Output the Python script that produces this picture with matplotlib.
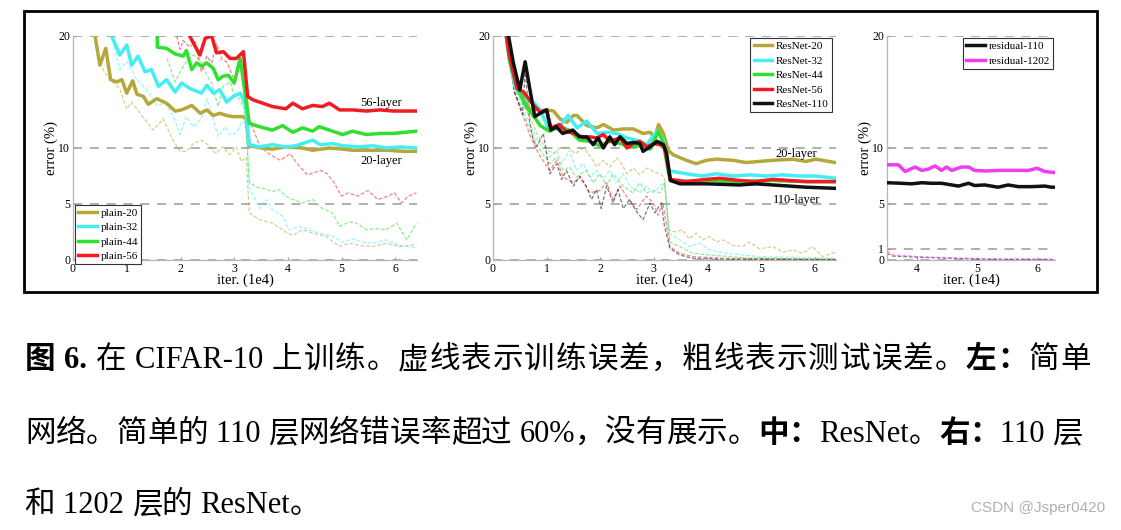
import matplotlib
matplotlib.use('Agg')
import matplotlib.pyplot as plt
from matplotlib.patches import Rectangle

plt.rcParams['font.family'] = ['Liberation Serif', 'Noto Sans CJK SC']

# ---- left panel: plain nets, (iter 1e4, error %) ----
plain20_test = [(0.30, 22.0), (0.41, 20.0), (0.50, 17.4), (0.61, 18.9), (0.70, 16.1), (0.81, 15.9), (0.91, 16.1),
                (1.00, 14.9), (1.11, 16.0), (1.19, 14.8), (1.31, 14.6), (1.40, 13.9), (1.56, 14.4), (1.74, 14.0),
                (1.90, 13.3), (2.02, 13.4), (2.21, 13.8), (2.37, 13.1), (2.49, 13.4), (2.61, 12.9), (2.73, 13.1),
                (2.86, 12.9), (2.98, 12.8), (3.16, 12.8), (3.22, 12.6), (3.28, 10.2), (3.50, 10.0), (3.71, 9.9),
                (3.96, 10.1), (4.27, 10.0), (4.46, 9.8), (4.77, 10.0), (5.02, 9.9), (5.20, 9.8), (5.52, 9.8),
                (5.83, 9.8), (6.15, 9.7), (6.39, 9.7)]
plain20_train = [(0.30, 22.0), (0.41, 20.0), (0.50, 17.4), (0.69, 16.1), (0.87, 15.3), (1.00, 13.5), (1.09, 14.1),
                 (1.28, 12.9), (1.49, 11.6), (1.68, 12.6), (1.86, 10.7), (1.99, 9.7), (2.11, 9.7), (2.24, 10.4),
                 (2.39, 10.7), (2.51, 10.3), (2.66, 9.5), (2.79, 10.1), (2.91, 9.4), (3.04, 10.1), (3.13, 8.8),
                 (3.22, 9.2), (3.28, 4.2), (3.47, 3.6), (3.71, 3.3), (3.96, 2.5), (4.09, 2.2), (4.27, 2.7),
                 (4.46, 2.4), (4.71, 2.1), (4.96, 1.2), (5.14, 1.5), (5.33, 1.3), (5.58, 1.2), (5.83, 1.5),
                 (6.08, 1.2), (6.39, 1.4)]
plain32_test = [(0.62, 22.0), (0.72, 20.0), (0.87, 18.3), (1.00, 19.2), (1.09, 17.4), (1.21, 18.2), (1.34, 16.8),
                (1.46, 17.0), (1.59, 15.5), (1.74, 16.1), (1.90, 15.0), (2.02, 15.8), (2.18, 15.3), (2.39, 14.9),
                (2.49, 15.6), (2.61, 14.9), (2.73, 15.2), (2.86, 14.1), (2.98, 14.6), (3.11, 14.9), (3.20, 14.0),
                (3.28, 10.3), (3.47, 10.1), (3.71, 10.3), (3.96, 10.1), (4.15, 10.2), (4.27, 10.4), (4.46, 10.7),
                (4.60, 10.3), (4.83, 10.4), (5.02, 10.2), (5.30, 10.1), (5.58, 10.2), (5.83, 10.0), (6.08, 10.1),
                (6.39, 10.0)]
plain32_train = [(0.62, 22.0), (0.72, 20.0), (0.87, 17.0), (1.00, 17.7), (1.19, 16.1), (1.37, 15.2), (1.56, 13.8),
                 (1.71, 14.0), (1.86, 12.9), (1.99, 11.2), (2.11, 12.8), (2.24, 11.9), (2.39, 12.6), (2.49, 14.4),
                 (2.61, 12.5), (2.70, 11.0), (2.83, 11.9), (2.91, 11.2), (3.04, 11.3), (3.13, 12.3), (3.22, 12.2),
                 (3.28, 6.5), (3.47, 4.6), (3.60, 5.4), (3.71, 4.5), (3.90, 3.9), (4.02, 2.7), (4.21, 3.0),
                 (4.40, 2.7), (4.58, 2.4), (4.83, 2.1), (5.02, 1.6), (5.20, 1.9), (5.39, 1.6), (5.58, 1.5),
                 (5.83, 1.8), (6.08, 1.3), (6.39, 1.1)]
plain44_test = [(1.56, 22.0), (1.57, 19.0), (1.74, 18.9), (1.90, 18.4), (2.05, 18.2), (2.11, 18.7), (2.21, 17.0),
                (2.30, 17.6), (2.39, 17.3), (2.49, 17.6), (2.61, 17.1), (2.70, 16.1), (2.79, 16.4), (2.89, 16.5),
                (3.00, 15.8), (3.11, 18.0), (3.20, 14.9), (3.28, 12.2), (3.47, 11.9), (3.71, 11.6), (3.90, 12.0),
                (4.09, 11.4), (4.27, 11.8), (4.46, 11.5), (4.58, 11.9), (4.83, 11.5), (5.02, 11.2), (5.20, 11.5),
                (5.46, 11.2), (5.71, 11.3), (5.96, 11.3), (6.39, 11.5)]
plain44_train = [(1.75, 18.0), (1.90, 15.9), (1.99, 16.8), (2.11, 17.7), (2.24, 18.3), (2.36, 17.9), (2.49, 16.5),
                 (2.58, 15.8), (2.70, 13.7), (2.79, 15.5), (2.92, 15.9), (3.00, 14.7), (3.11, 14.3), (3.20, 13.4),
                 (3.28, 7.0), (3.40, 6.5), (3.53, 6.4), (3.71, 6.1), (3.84, 6.3), (3.96, 5.7), (4.09, 5.4),
                 (4.27, 5.1), (4.46, 5.4), (4.64, 4.6), (4.83, 4.2), (4.96, 3.0), (5.14, 3.4), (5.27, 3.3),
                 (5.46, 2.7), (5.64, 2.8), (5.83, 2.7), (6.02, 3.3), (6.21, 1.8), (6.39, 3.3)]
plain56_test = [(2.10, 22.0), (2.17, 20.0), (2.36, 18.3), (2.46, 19.8), (2.58, 20.0), (2.67, 18.5), (2.80, 18.6),
                (2.92, 18.0), (3.04, 18.0), (3.17, 18.6), (3.25, 14.6), (3.35, 14.3), (3.47, 14.1), (3.71, 13.7),
                (3.96, 13.5), (4.09, 14.0), (4.27, 13.5), (4.46, 13.8), (4.64, 13.7), (4.77, 14.0), (4.96, 13.4),
                (5.20, 13.4), (5.46, 13.3), (5.71, 13.4), (5.96, 13.3), (6.39, 13.3)]
plain56_train = [(1.90, 22.0), (1.93, 20.0), (1.99, 18.8), (2.05, 19.6), (2.17, 19.0), (2.27, 19.5), (2.39, 16.8),
                 (2.49, 18.2), (2.58, 17.6), (2.67, 19.3), (2.77, 17.9), (2.86, 17.7), (3.00, 16.1), (3.11, 17.4),
                 (3.20, 17.3), (3.28, 12.5), (3.36, 11.6), (3.48, 10.1), (3.67, 9.4), (3.86, 8.9), (4.04, 9.5),
                 (4.17, 8.6), (4.36, 7.6), (4.61, 8.0), (4.73, 7.7), (4.86, 6.9), (4.99, 5.7), (5.12, 6.0),
                 (5.30, 5.7), (5.49, 6.2), (5.67, 5.4), (5.86, 5.7), (5.98, 6.0), (6.11, 5.1), (6.24, 5.7),
                 (6.39, 6.0)]

# ---- middle panel: ResNets ----
res20_test = [(0.22, 21.0), (0.30, 18.5), (0.44, 16.1), (0.56, 14.6), (0.69, 13.4), (0.81, 13.5), (0.88, 13.3),
              (1.00, 13.4), (1.13, 13.3), (1.25, 12.6), (1.38, 12.3), (1.50, 12.9), (1.57, 12.9), (1.75, 12.0),
              (1.94, 11.8), (2.06, 12.1), (2.25, 11.6), (2.43, 11.7), (2.62, 11.7), (2.80, 11.3), (2.93, 11.4),
              (3.02, 11.0), (3.09, 12.1), (3.18, 11.3), (3.27, 9.8), (3.36, 9.4), (3.61, 8.9), (3.79, 8.6),
              (3.98, 8.9), (4.17, 9.0), (4.48, 8.9), (4.72, 8.7), (4.97, 8.8), (5.22, 8.9), (5.59, 9.0),
              (5.84, 8.8), (6.02, 9.0), (6.39, 8.7)]
res20_train = [(0.25, 20.0), (0.40, 15.5), (0.55, 14.0), (0.70, 12.6), (0.85, 11.0), (1.00, 9.9), (1.13, 9.5),
               (1.24, 10.0), (1.40, 10.1), (1.53, 9.5), (1.69, 10.0), (1.81, 9.3), (1.94, 8.3), (2.06, 8.9),
               (2.18, 8.3), (2.31, 9.1), (2.40, 8.6), (2.50, 7.7), (2.62, 8.2), (2.74, 7.6), (2.87, 8.2),
               (3.00, 7.9), (3.11, 7.7), (3.20, 7.4), (3.28, 2.7), (3.41, 2.5), (3.53, 2.7), (3.66, 1.9),
               (3.79, 2.4), (3.91, 1.8), (4.04, 2.1), (4.17, 1.6), (4.29, 1.8), (4.48, 1.3), (4.66, 1.2),
               (4.79, 1.6), (4.97, 1.0), (5.22, 1.2), (5.41, 0.7), (5.59, 0.9), (5.78, 0.6), (5.96, 1.2),
               (6.15, 0.3), (6.39, 0.7)]
res32_test = [(0.22, 21.0), (0.30, 18.0), (0.41, 15.5), (0.56, 14.3), (0.75, 14.1), (0.88, 13.4), (1.05, 11.6),
              (1.24, 11.9), (1.40, 12.9), (1.57, 11.8), (1.75, 12.4), (1.94, 11.3), (2.13, 11.4), (2.31, 11.3),
              (2.50, 10.9), (2.68, 10.7), (2.87, 10.3), (3.06, 11.5), (3.18, 10.7), (3.28, 8.0), (3.36, 7.9),
              (3.61, 7.7), (3.90, 7.5), (4.17, 7.7), (4.48, 7.5), (4.79, 7.6), (5.10, 7.5), (5.40, 7.6),
              (5.70, 7.5), (6.02, 7.5), (6.39, 7.3)]
res32_train = [(0.25, 20.0), (0.40, 15.0), (0.55, 13.5), (0.70, 12.0), (0.85, 10.5), (1.06, 9.2), (1.19, 9.8),
               (1.28, 8.6), (1.43, 9.8), (1.55, 8.0), (1.68, 8.6), (1.81, 7.4), (1.93, 8.0), (2.06, 7.3),
               (2.18, 8.0), (2.30, 6.9), (2.43, 7.7), (2.55, 6.6), (2.74, 6.0), (2.86, 6.6), (2.99, 6.0),
               (3.12, 6.6), (3.20, 6.9), (3.28, 2.4), (3.48, 1.8), (3.67, 1.2), (3.86, 1.5), (4.04, 0.9),
               (4.35, 0.6), (4.66, 0.45), (4.97, 0.3), (5.59, 0.25), (6.39, 0.15)]
res44_test = [(0.22, 21.0), (0.32, 17.6), (0.44, 15.5), (0.62, 13.7), (0.81, 12.5), (0.88, 12.0), (1.05, 11.5),
              (1.24, 11.9), (1.42, 11.6), (1.61, 10.7), (1.80, 10.6), (1.99, 10.2), (2.18, 10.6), (2.37, 10.4),
              (2.56, 10.1), (2.74, 10.2), (2.93, 9.9), (3.09, 11.5), (3.18, 10.4), (3.27, 7.9), (3.31, 7.1),
              (3.49, 7.0), (3.98, 7.1), (4.60, 7.0), (5.22, 7.1), (5.84, 7.0), (6.39, 7.0)]
res44_train = [(0.25, 20.0), (0.40, 15.2), (0.55, 13.3), (0.70, 11.5), (0.85, 10.0), (1.06, 8.6), (1.19, 9.2),
               (1.31, 8.0), (1.43, 8.3), (1.55, 7.4), (1.74, 8.0), (1.87, 6.9), (1.99, 7.7), (2.12, 6.6),
               (2.24, 7.7), (2.43, 6.6), (2.61, 6.0), (2.74, 6.9), (2.86, 6.0), (2.99, 6.2), (3.12, 6.0),
               (3.20, 6.9), (3.30, 1.6), (3.48, 1.2), (3.73, 0.6), (4.04, 0.45), (4.66, 0.2), (5.59, 0.12),
               (6.39, 0.06)]
res56_test = [(0.22, 21.0), (0.30, 18.3), (0.45, 15.3), (0.57, 15.0), (0.76, 13.8), (0.88, 13.2), (1.00, 13.4),
              (1.08, 11.8), (1.24, 12.1), (1.36, 11.5), (1.57, 11.2), (1.69, 10.9), (1.80, 11.0), (1.94, 10.9),
              (2.06, 11.2), (2.18, 10.6), (2.37, 10.9), (2.50, 10.0), (2.62, 10.4), (2.74, 10.6), (2.87, 10.1),
              (3.00, 10.4), (3.11, 10.3), (3.20, 10.1), (3.31, 7.2), (3.61, 7.0), (3.98, 7.2), (4.23, 7.3),
              (4.60, 7.1), (4.90, 7.0), (5.22, 7.2), (5.53, 7.1), (5.84, 7.0), (6.39, 7.0)]
res56_train = [(0.25, 20.0), (0.40, 15.0), (0.55, 13.0), (0.70, 11.0), (0.85, 9.5), (1.06, 8.0), (1.19, 8.9),
               (1.31, 7.4), (1.50, 6.9), (1.62, 7.4), (1.81, 6.0), (1.99, 6.2), (2.12, 6.9), (2.24, 5.4),
               (2.37, 6.6), (2.49, 5.7), (2.68, 4.5), (2.86, 5.7), (2.99, 5.1), (3.08, 4.0), (3.17, 5.1),
               (3.30, 1.2), (3.48, 0.6), (3.73, 0.3), (4.35, 0.15), (6.39, 0.06)]
res110_test = [(0.26, 21.0), (0.29, 20.0), (0.38, 17.6), (0.50, 15.2), (0.60, 17.7), (0.69, 15.2), (0.78, 12.8),
               (0.88, 13.1), (1.00, 13.4), (1.08, 11.6), (1.18, 11.9), (1.30, 11.3), (1.49, 11.6), (1.61, 11.0),
               (1.75, 11.0), (1.87, 10.3), (1.96, 10.9), (2.06, 10.0), (2.18, 11.0), (2.27, 10.3), (2.37, 11.0),
               (2.50, 10.4), (2.62, 10.5), (2.74, 10.4), (2.80, 9.7), (2.93, 10.1), (3.06, 10.6), (3.18, 10.3),
               (3.24, 9.5), (3.31, 7.1), (3.49, 6.8), (3.98, 6.8), (4.60, 6.7), (4.90, 6.8), (5.22, 6.7),
               (5.84, 6.5), (6.39, 6.4)]
res110_train = [(0.25, 20.0), (0.40, 15.0), (0.55, 13.0), (0.60, 17.0), (0.68, 12.5), (0.75, 10.7), (0.81, 10.1),
                (0.94, 11.3), (1.06, 7.7), (1.19, 8.6), (1.28, 7.2), (1.37, 8.0), (1.50, 6.6), (1.62, 7.5),
                (1.74, 6.6), (1.84, 5.4), (1.93, 6.3), (2.02, 4.6), (2.12, 6.6), (2.24, 5.1), (2.33, 6.3),
                (2.43, 4.6), (2.55, 5.4), (2.68, 4.3), (2.80, 3.6), (2.93, 5.1), (3.02, 4.2), (3.14, 5.1),
                (3.20, 3.0), (3.30, 1.05), (3.48, 0.45), (3.73, 0.15), (4.35, 0.06), (6.39, 0.02)]

# ---- right panel: 110 vs 1202 layers ----
resid110_test = [(3.50, 6.9), (3.74, 6.85), (3.91, 6.8), (4.08, 6.9), (4.24, 6.85), (4.41, 6.85), (4.58, 6.7),
                 (4.69, 6.6), (4.86, 6.85), (4.96, 6.65), (5.13, 6.7), (5.35, 6.5), (5.52, 6.7), (5.69, 6.55),
                 (5.91, 6.55), (6.13, 6.6), (6.24, 6.5), (6.30, 6.5)]
resid110_train = [(3.50, 0.6), (3.60, 0.35), (3.80, 0.3), (4.00, 0.25), (4.30, 0.2), (4.60, 0.15), (5.00, 0.08),
                  (5.40, 0.05), (5.80, 0.05), (6.30, 0.03)]
resid1202_test = [(3.50, 8.5), (3.69, 8.5), (3.80, 7.9), (3.97, 8.3), (4.08, 8.0), (4.18, 8.1), (4.30, 8.4),
                  (4.41, 8.0), (4.49, 8.3), (4.58, 8.0), (4.74, 8.3), (4.86, 8.3), (4.96, 8.0), (5.13, 7.95),
                  (5.41, 8.0), (5.69, 8.0), (5.86, 8.0), (6.00, 8.2), (6.13, 7.9), (6.30, 7.8)]
resid1202_train = [(3.50, 0.85), (3.60, 0.45), (3.80, 0.4), (4.00, 0.3), (4.30, 0.25), (4.60, 0.2), (5.00, 0.12),
                   (5.40, 0.1), (5.80, 0.1), (6.30, 0.08)]

OLIVE = '#b5a83a'
CYAN = '#45eef5'
GREEN = '#30e030'
RED = '#ee1d23'
BLACK = '#111111'
MAGENTA = '#f03cf0'

caption_lines = [
    [('图 6. ', True), ('在 CIFAR-10 上训练。虚线表示训练误差，粗线表示测试误差。', False), ('左：', True), ('简单', False)],
    [('网络。简单的 110 层网络错误率超过 60%，没有展示。', False), ('中：', True), ('ResNet。', False),
     ('右：', True), ('110 层', False)],
    [('和 1202 层的 ResNet。', False)],
]
caption_right = [1091, None, None]   # line 1 is justified to the right margin

fig = plt.figure(figsize=(11.21, 5.30), dpi=100)
W, H = 1121.0, 530.0


def px_axes(x0, y0, x1, y1):
    return fig.add_axes([x0 / W, 1 - y1 / H, (x1 - x0) / W, (y1 - y0) / H])


def style(ax, xlim, xticks, yticks):
    ax.set_xlim(*xlim)
    ax.set_ylim(0, 20)
    ax.set_xticks(xticks)
    ax.set_yticks(yticks)
    for y in yticks:
        ax.axhline(y, color='#9a9a9a', lw=1.1, ls=(0, (6, 5)), zorder=0)
    for s in ['top', 'right']:
        ax.spines[s].set_visible(False)
    for s in ['left', 'bottom']:
        ax.spines[s].set_color('#b5b5b5')
        ax.spines[s].set_linewidth(0.9)
    ax.tick_params(direction='in', length=2.5, color='#999999', labelsize=8.5, pad=2)
    ax.set_xlabel('iter. (1e4)', fontsize=10.5, labelpad=-1)
    ax.set_ylabel('error (%)', fontsize=10.5, labelpad=0)


def draw(ax, series):
    for test, train, color, label in series:
        tx, ty = zip(*train)
        ax.plot(tx, ty, color=color, lw=0.9, ls=(0, (3, 1.5)), alpha=0.55, zorder=2)
    for test, train, color, label in series:
        x, y = zip(*test)
        ax.plot(x, y, color=color, lw=2.5, label=label, zorder=3)


def legend(ax, **kw):
    leg = ax.legend(fontsize=8, handlelength=1.7, handletextpad=0.3, labelspacing=0.42, borderpad=0.3,
                    fancybox=False, edgecolor='#333333', framealpha=1, borderaxespad=0, **kw)
    leg.get_frame().set_linewidth(0.8)


# left
ax1 = px_axes(73, 36, 417, 260)
style(ax1, (0, 6.4), range(7), [0, 5, 10, 20])
draw(ax1, [(plain20_test, plain20_train, OLIVE, 'plain-20'),
           (plain32_test, plain32_train, CYAN, 'plain-32'),
           (plain44_test, plain44_train, GREEN, 'plain-44'),
           (plain56_test, plain56_train, RED, 'plain-56')])
legend(ax1, loc='lower left', bbox_to_anchor=(0.006, -0.02))
ax1.text(5.74, 14.0, '56-layer', fontsize=9, ha='center', va='center')
ax1.text(5.74, 8.85, '20-layer', fontsize=9, ha='center', va='center')

# middle
ax2 = px_axes(493, 36, 836, 260)
style(ax2, (0, 6.4), range(7), [0, 5, 10, 20])
draw(ax2, [(res20_test, res20_train, OLIVE, 'ResNet-20'),
           (res32_test, res32_train, CYAN, 'ResNet-32'),
           (res44_test, res44_train, GREEN, 'ResNet-44'),
           (res56_test, res56_train, RED, 'ResNet-56'),
           (res110_test, res110_train, BLACK, 'ResNet-110')])
legend(ax2, loc='upper right', bbox_to_anchor=(0.988, 0.99))
ax2.text(5.66, 9.5, '20-layer', fontsize=9, ha='center', va='center')
ax2.text(5.66, 5.4, '110-layer', fontsize=9, ha='center', va='center')

# right
ax3 = px_axes(887, 36, 1055, 260)
style(ax3, (3.5, 6.3), [4, 5, 6], [0, 1, 5, 10, 20])
draw(ax3, [(resid110_test, resid110_train, BLACK, 'residual-110'),
           (resid1202_test, resid1202_train, MAGENTA, 'residual-1202')])
legend(ax3, loc='upper right', bbox_to_anchor=(0.988, 0.99))

# frame round the three plots
fig.patches.append(Rectangle((24 / W, 1 - 292 / H), (1097 - 24) / W, (292 - 11) / H,
                             transform=fig.transFigure, fill=False, ec='black', lw=2.0))

# caption, drawn piece by piece because of the bold parts
renderer = fig.canvas.get_renderer()
CAP_SIZE = 22


def advance(s, bold):
    w = 'bold' if bold else 'normal'
    t1 = fig.text(0, 0, s + '一', fontsize=CAP_SIZE, fontweight=w)
    t2 = fig.text(0, 0, '一', fontsize=CAP_SIZE, fontweight=w)
    a = t1.get_window_extent(renderer).width - t2.get_window_extent(renderer).width
    t1.remove()
    t2.remove()
    return a


def split_tokens(s):
    out, cur = [], ''
    for ch in s:
        if ord(ch) < 128:
            if ch == ' ' and cur == '' and out:
                out[-1] += ' '
            else:
                cur += ch
        else:
            if cur:
                out.append(cur)
                cur = ''
            out.append(ch)
    if cur:
        out.append(cur)
    return out


for segs, base, right in zip(caption_lines, [368, 442, 513], caption_right):
    toks = [(t, bold) for s, bold in segs for t in split_tokens(s)]
    advs = [advance(t, b) for t, b in toks]
    gap = 0.0
    if right is not None:
        gap = (right - 25.0 - sum(advs)) / (len(toks) - 1)
    x = 25.0
    for (t, bold), a in zip(toks, advs):
        fig.text(x / W, 1 - base / H, t, fontsize=CAP_SIZE, fontweight='bold' if bold else 'normal',
                 ha='left', va='baseline', color='black')
        x += a + gap

fig.text(1105 / W, 1 - 508 / H, 'CSDN @Jsper0420', fontsize=11, color='#b0b0b0',
         family='Liberation Sans', ha='right', va='center')

fig.savefig('out.png', dpi=100)
